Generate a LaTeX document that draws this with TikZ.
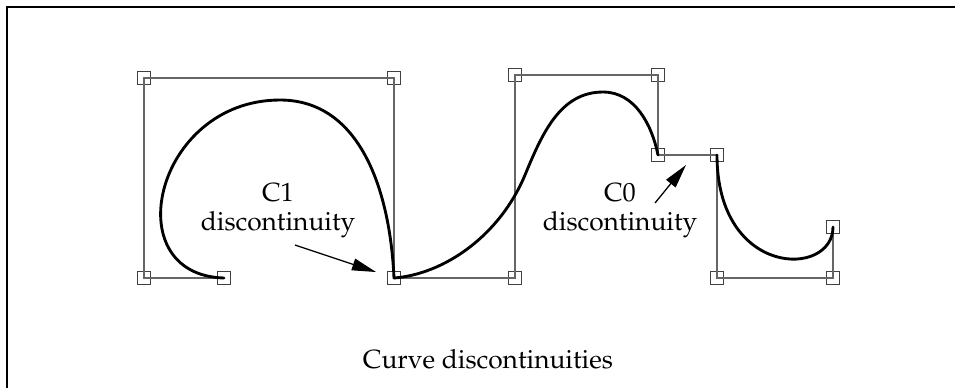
\documentclass[tikz,border=0pt]{standalone}
\usepackage[T1]{fontenc}
\usepackage{mathpazo}
\usetikzlibrary{arrows.meta}

\begin{document}
\begin{tikzpicture}[x=0.35pt,y=-0.35pt,
  ctrl/.style={draw=black!75, line width=0.4pt, minimum size=4.6pt, inner sep=0pt},
  hull/.style={draw=black!60, line width=0.4pt},
  bez/.style={line width=1pt, line cap=round},
  pointer/.style={line width=0.45pt, -{Triangle[length=8.4pt,width=4.2pt]}},
  lbl/.style={align=center, inner sep=0pt, font=\fontsize{9.2}{10.2}\selectfont}]
\useasboundingbox (0,0) rectangle (955,388);
\draw[line width=0.5pt] (7,388) -- (7,7) -- (955,7);

% control points
\foreach \n/\x/\y in {a0/224/278, a1/144/278, a2/144/78, a3/394/78, a4/394/278,
                      b1/515/278, b2/515/75, b3/658/75, b4/658/155,
                      c0/717/155, c1/717/278, c2/833/278, c3/833/227}
  \node[ctrl] (\n) at (\x,\y) {};

% control polygons
\draw[hull] (a0.center) -- (a1.center) -- (a2.center) -- (a3.center) -- (a4.center);
\draw[hull] (a4.center) -- (b1.center) -- (b2.center) -- (b3.center) -- (b4.center) -- (c0.center);
\draw[hull] (c0.center) -- (c1.center) -- (c2.center) -- (c3.center);

% curves
\coordinate (top1) at (280,100);
\coordinate (bend2) at (525,175);
\coordinate (top2) at (603,92);
\draw[bez] (a0.center) .. controls (115,275) and (155,100) .. (top1)
  .. controls (360,100) and (390,190) .. (a4.center);
\draw[bez] (a4.center) .. controls (445,274) and (500,235) .. (bend2)
  .. controls (542,134) and (560,92) .. (top2)
  .. controls (635,92) and (652,125) .. (b4.center);
\draw[bez] (c0.center) .. controls (c1.center) and (c2.center) .. (c3.center);

% labels
\node[lbl] (c1lbl) at (278,211) {C1\\discontinuity};
\node[lbl] (c0lbl) at (620,211) {C0\\discontinuity};
\coordinate (c1from) at (295,245);
\coordinate (c1to) at (376,272);
\coordinate (c0from) at (655,203);
\coordinate (c0to) at (686,165);
\draw[pointer] (c1from) -- (c1to);
\draw[pointer] (c0from) -- (c0to);

\node[lbl, anchor=base] (title) at (488,368) {Curve discontinuities};
\end{tikzpicture}
\end{document}
